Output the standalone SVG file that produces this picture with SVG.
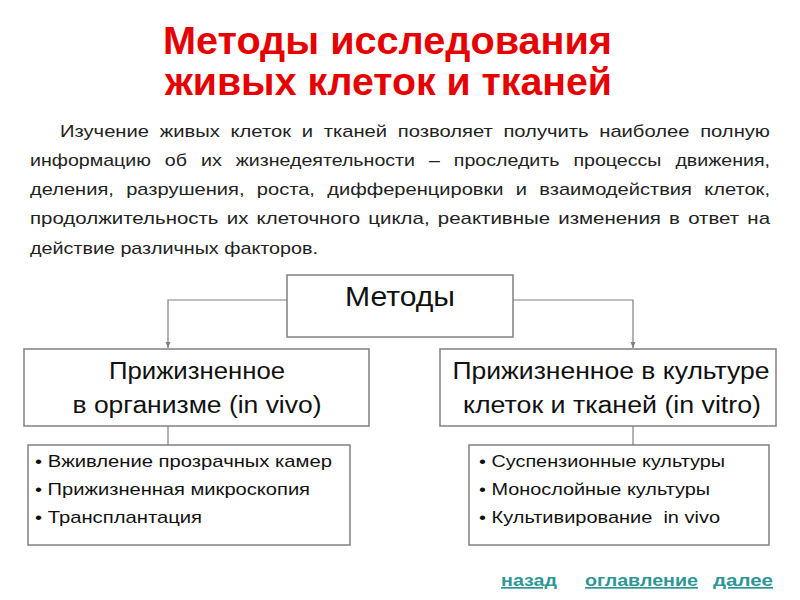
<svg xmlns="http://www.w3.org/2000/svg" width="800" height="600" viewBox="0 0 800 600">
<defs>
<style>
.title{font-family:"Liberation Sans",Arial,sans-serif;font-weight:bold;font-size:38px;fill:#e60000}
.para{font-family:"Liberation Sans",Arial,sans-serif;font-size:17px;fill:#222}
.box{fill:#fff;stroke:#808080;stroke-width:1.5}
.lbl{font-family:"Liberation Sans",Arial,sans-serif;font-size:23px;fill:#111;text-anchor:middle}
.item{font-family:"Liberation Sans",Arial,sans-serif;font-size:17px;fill:#111}
.conn{fill:none;stroke:#808080;stroke-width:1.2}
.link{font-family:"Liberation Sans",Arial,sans-serif;font-weight:bold;font-size:17px;fill:#2f9696;text-decoration:underline}
</style>
<marker id="arr" viewBox="0 0 6 6" refX="6" refY="3" markerWidth="6" markerHeight="6" orient="auto" markerUnits="userSpaceOnUse">
<path d="M0,0.5 L6,3 L0,5.5 z" fill="#808080"/>
</marker>
</defs>
<rect width="800" height="600" fill="#fff"/>
<g id="title">
<text class="title" x="163" y="54" textLength="449" lengthAdjust="spacingAndGlyphs">Методы исследования</text>
<text class="title" x="165" y="95" textLength="447" lengthAdjust="spacingAndGlyphs">живых клеток и тканей</text>
</g>
<g id="paragraph">
<text class="para" x="60" y="137" word-spacing="4.3" textLength="710" lengthAdjust="spacingAndGlyphs">Изучение живых клеток и тканей позволяет получить наиболее полную</text>
<text class="para" x="30" y="166" word-spacing="7.4" textLength="740" lengthAdjust="spacingAndGlyphs">информацию об их жизнедеятельности – проследить процессы движения,</text>
<text class="para" x="30" y="195" word-spacing="5.7" textLength="740" lengthAdjust="spacingAndGlyphs">деления, разрушения, роста, дифференцировки и взаимодействия клеток,</text>
<text class="para" x="30" y="224" word-spacing="2.1" textLength="740" lengthAdjust="spacingAndGlyphs">продолжительность их клеточного цикла, реактивные изменения в ответ на</text>
<text class="para" x="30" y="254" textLength="288" lengthAdjust="spacingAndGlyphs">действие различных факторов.</text>
</g>
<g id="connectors">
<path class="conn" d="M287,300 H168 V348" marker-end="url(#arr)"/>
<path class="conn" d="M513,300 H633 V348" marker-end="url(#arr)"/>
<path class="conn" d="M168,426 V445"/>
<path class="conn" d="M633,426 V445"/>
</g>
<g id="methods">
<rect class="box" x="287" y="275" width="226" height="62"/>
<text class="lbl" x="400" y="306" style="font-size:27px" textLength="110" lengthAdjust="spacingAndGlyphs">Методы</text>
</g>
<g id="invivo">
<rect class="box" x="24" y="349" width="345" height="77"/>
<text class="lbl" x="197" y="379" textLength="176" lengthAdjust="spacingAndGlyphs">Прижизненное</text>
<text class="lbl" x="197" y="413" textLength="249" lengthAdjust="spacingAndGlyphs">в организме (in vivo)</text>
</g>
<g id="invitro">
<rect class="box" x="440" y="349" width="336" height="77"/>
<text class="lbl" x="611" y="379" textLength="317" lengthAdjust="spacingAndGlyphs">Прижизненное в культуре</text>
<text class="lbl" x="612" y="413" textLength="298" lengthAdjust="spacingAndGlyphs">клеток и тканей (in vitro)</text>
</g>
<g id="invivo-list">
<rect class="box" x="28" y="445" width="322" height="100"/>
<text class="item" x="35" y="467" textLength="297" lengthAdjust="spacingAndGlyphs">• Вживление прозрачных камер</text>
<text class="item" x="35" y="495" textLength="275" lengthAdjust="spacingAndGlyphs">• Прижизненная микроскопия</text>
<text class="item" x="35" y="523" textLength="167" lengthAdjust="spacingAndGlyphs">• Трансплантация</text>
</g>
<g id="invitro-list">
<rect class="box" x="469" y="445" width="300" height="100"/>
<text class="item" x="479" y="467" textLength="246" lengthAdjust="spacingAndGlyphs">• Суспензионные культуры</text>
<text class="item" x="479" y="495" textLength="231" lengthAdjust="spacingAndGlyphs">• Монослойные культуры</text>
<text class="item" x="479" y="523" textLength="241" lengthAdjust="spacingAndGlyphs" xml:space="preserve">• Культивирование  in vivo</text>
</g>
<g id="nav">
<text class="link" x="501" y="586" textLength="56" lengthAdjust="spacingAndGlyphs">назад</text>
<text class="link" x="585" y="586" textLength="113" lengthAdjust="spacingAndGlyphs">оглавление</text>
<text class="link" x="713" y="586" textLength="60" lengthAdjust="spacingAndGlyphs">далее</text>
</g>
</svg>
